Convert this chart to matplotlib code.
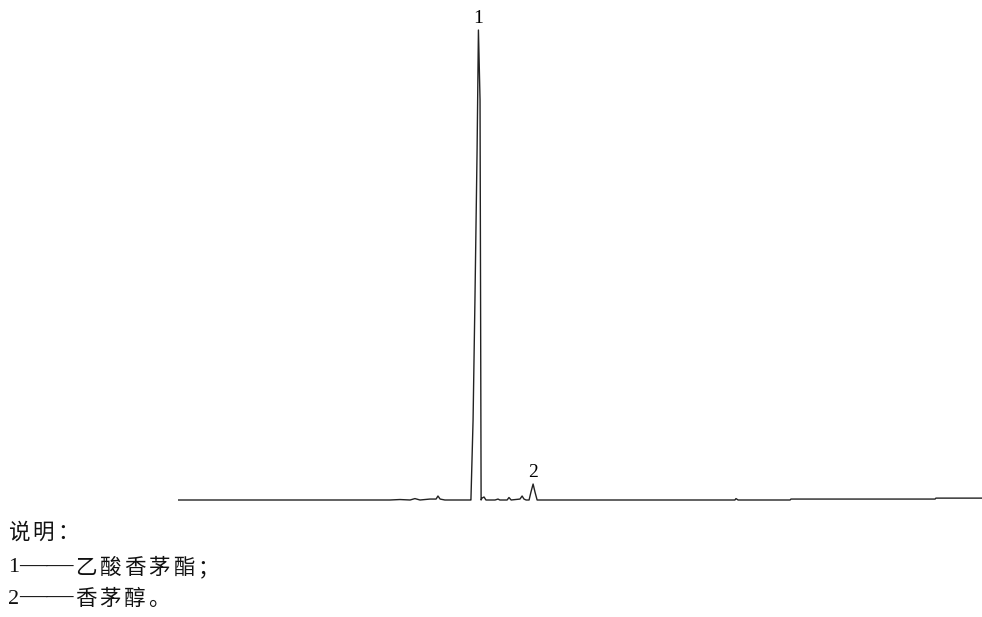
import matplotlib.pyplot as plt

# retention time (min) and detector signal
rt = [0.0, 7.91, 8.28, 8.66, 8.84, 9.03, 9.40, 9.63, 9.70, 9.78, 9.96,
      10.90, 10.93, 11.01, 11.08, 11.16, 11.21, 11.27, 11.29, 11.31,
      11.34, 11.42, 11.49, 11.83, 11.94, 12.01, 12.28, 12.35, 12.43,
      12.76, 12.84, 12.91, 12.99, 13.10, 13.17, 13.25, 13.32, 13.40,
      13.69, 14.29, 20.78, 20.82, 20.90, 22.84, 22.87, 28.25, 28.28, 30.0]
signal = [0, 0, 1, 0, 3, 0, 2, 2, 8.5, 2, 0,
          0, 0, 170, 426, 746, 1001, 852, 426, 0,
          4, 6.4, 0, 0, 2, 0, 0, 5.3, 0,
          2, 8.5, 2, 0, 0, 17, 34, 17, 0,
          0, 0, 0, 3, 0, 0, 2, 2, 4, 4]

peak_rt = [11.21, 13.25]
peak_h = [1001, 34]
peak_labels = ["1", "2"]

legend_title = "说明："
legend_lines = ["1——乙酸香茅酯；", "2——香茅醇。"]

W, H = 982, 617
fig = plt.figure(figsize=(W / 100, H / 100), dpi=100)
ax = fig.add_axes([178 / W, (H - 510) / H, 804 / W, 500 / H])
ax.plot(rt, signal, color="#222222", lw=1.0)
ax.set_xlim(0, 30)
ax.set_ylim(-21.3, 1043.7)
ax.axis("off")

for x, h, lab in zip(peak_rt, peak_h, peak_labels):
    ax.annotate(lab, (x, h), xytext=(0, 2), textcoords="offset points",
                ha="center", va="bottom", fontsize=14,
                family=["Liberation Serif"])

cjk = ["Noto Sans CJK SC", "DejaVu Sans"]
serif = ["Liberation Serif"]
pitch = 24.5


def put(x, y, s, **kw):
    fig.text(x / W, 1 - y / H, s, va="center", color="#111111", **kw)


def put_cjk(x, y, s):
    # Chinese text with the wide character spacing of the original
    for i, ch in enumerate(s):
        put(x + i * pitch, y, ch, fontsize=15.5, family=cjk)


put_cjk(8, 533, legend_title)
for i, line in enumerate(legend_lines):
    y = 568 + 31 * i
    num, name = line.split("——")
    put(8, y, num, fontsize=16, family=serif)
    put(19, y - 2, "——", fontsize=19.5, family=serif)
    put_cjk(75, y, name)

fig.savefig("out.png", dpi=100)
